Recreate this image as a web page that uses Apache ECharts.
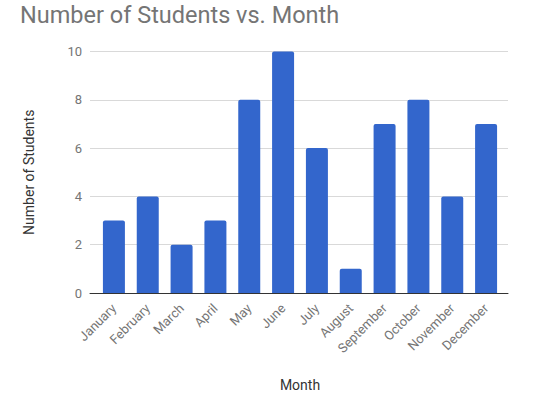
<!DOCTYPE html>
<html>
<head>
<meta charset="utf-8">
<script src="https://cdn.jsdelivr.net/npm/echarts@6/dist/echarts.min.js"></script>
<style>
  html, body { margin: 0; padding: 0; background: #fff; }
  #chart { width: 544px; height: 403px; }
</style>
</head>
<body>
<div id="chart"></div>
<script>
// data
const months = ['January', 'February', 'March', 'April', 'May', 'June',
  'July', 'August', 'September', 'October', 'November', 'December'];
const students = [3, 4, 2, 3, 8, 10, 6, 1, 7, 8, 4, 7];
const yTicks = [0, 2, 4, 6, 8, 10];

const yMin = yTicks[0];
const yMax = yTicks[yTicks.length - 1];
const yStep = yTicks[1] - yTicks[0];

const chart = echarts.init(document.getElementById('chart'), null, { renderer: 'svg' });

// grid 0 holds the bars, grid 1 is a bit wider and only draws the
// gridlines / baseline, which run past the outer bars like in the original
chart.setOption({
  animation: false,
  textStyle: { fontFamily: 'Roboto, sans-serif' },
  title: {
    text: 'Number of Students vs. Month',
    left: 20,
    top: 3,
    padding: 0,
    textStyle: { fontFamily: 'Roboto', fontSize: 23.5, fontWeight: 'normal', color: '#757575' }
  },
  grid: [
    { left: 97, right: 41, top: 51.5, bottom: 110 },
    { left: 90, right: 36, top: 51.5, bottom: 110 }
  ],
  xAxis: [{
    type: 'category',
    gridIndex: 0,
    data: months,
    name: 'Month',
    nameLocation: 'middle',
    nameGap: 85,
    nameTextStyle: { color: '#333', fontSize: 14 },
    axisLine: { show: false },
    axisTick: { show: false },
    axisLabel: { rotate: 45, color: '#757575', fontSize: 13, interval: 0, margin: 13 }
  }, {
    type: 'value',
    gridIndex: 1,
    min: 0,
    max: 1,
    axisLine: { show: true, onZero: false, lineStyle: { color: '#333', width: 1 } },
    axisTick: { show: false },
    axisLabel: { show: false },
    splitLine: { show: false }
  }],
  yAxis: [{
    type: 'value',
    gridIndex: 0,
    min: yMin,
    max: yMax,
    interval: yStep,
    axisLine: { show: false },
    axisTick: { show: false },
    axisLabel: { show: false },
    splitLine: { show: false }
  }, {
    type: 'value',
    gridIndex: 1,
    min: yMin,
    max: yMax,
    interval: yStep,
    name: 'Number of Students',
    nameLocation: 'middle',
    nameGap: 54,
    nameTextStyle: { color: '#333', fontSize: 14 },
    axisLine: { show: false },
    axisTick: { show: false },
    axisLabel: { color: '#757575', fontSize: 13, margin: 8 },
    splitLine: { lineStyle: { color: '#d9d9d9' } }
  }],
  series: [{
    type: 'bar',
    xAxisIndex: 0,
    yAxisIndex: 0,
    data: students,
    barWidth: '65%',
    z: 3,
    itemStyle: { color: '#3366cc', borderRadius: [2, 2, 0, 0] }
  }]
});
</script>
</body>
</html>
